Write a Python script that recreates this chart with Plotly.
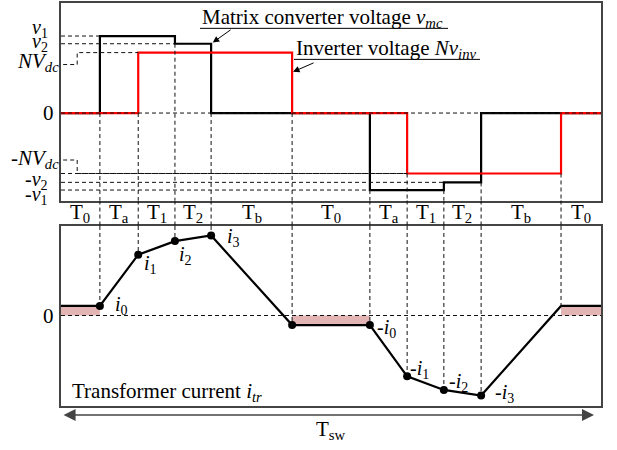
import plotly.graph_objects as go

# Switching instants over one switching period (period normalised to 100)
t_edges = [0, 7.2, 14.3, 21.1, 27.8, 42.8, 57.2, 64.1, 70.9, 77.8, 92.6, 100]
interval_names = ["T<sub>0</sub>", "T<sub>a</sub>", "T<sub>1</sub>", "T<sub>2</sub>", "T<sub>b</sub>",
                  "T<sub>0</sub>", "T<sub>a</sub>", "T<sub>1</sub>", "T<sub>2</sub>", "T<sub>b</sub>",
                  "T<sub>0</sub>"]

# Per-unit voltage levels
V1 = 1.0
V2 = 0.9
NVDC = 0.785
# Voltage held during each interval
v_mc = [0, V1, V1, V2, 0, 0, -V1, -V1, -V2, 0, 0]
nv_inv = [0, 0, NVDC, NVDC, NVDC, 0, 0, -NVDC, -NVDC, -NVDC, 0]

# Transformer current at each switching instant
I0, I1, I2, I3 = 0.12, 0.76, 0.93, 1.0
i_tr = [I0, I0, I1, I2, I3, -I0, -I0, -I1, -I2, -I3, I0, I0]
# Labelled instants and their names
i_label_idx = [1, 2, 3, 4, 6, 7, 8, 9]
i_names = ["<i>i</i><sub>0</sub>", "<i>i</i><sub>1</sub>", "<i>i</i><sub>2</sub>", "<i>i</i><sub>3</sub>",
           "-<i>i</i><sub>0</sub>", "-<i>i</i><sub>1</sub>", "-<i>i</i><sub>2</sub>", "-<i>i</i><sub>3</sub>"]

# ---- layout constants ----
FONT = "Liberation Serif"
X_RANGE = [0, 100]
Y1_RANGE = [-1.136, 1.429]
Y2_RANGE = [-1.131, 1.119]
TOP_DOMAIN = [0.5544, 0.9933]
BOT_DOMAIN = [0.0978, 0.4978]
DASH = dict(color="#111", width=1, dash="4px,3px")
FRAME = "#444"

fig = go.Figure()

# Matrix converter voltage and inverter voltage (step waveforms)
fig.add_trace(go.Scatter(x=t_edges, y=v_mc + [v_mc[-1]], mode="lines", line_shape="hv",
                         line=dict(color="black", width=2.2), xaxis="x", yaxis="y",
                         hoverinfo="skip"))
fig.add_trace(go.Scatter(x=t_edges, y=nv_inv + [nv_inv[-1]], mode="lines", line_shape="hv",
                         line=dict(color="#ff0000", width=2.2), xaxis="x", yaxis="y",
                         hoverinfo="skip"))

# Shaded regions where the current stays constant
fx, fy = [], []
for k in range(len(t_edges) - 1):
    if i_tr[k] == i_tr[k + 1]:
        fx += [t_edges[k], t_edges[k], t_edges[k + 1], t_edges[k + 1], t_edges[k], None]
        fy += [0, i_tr[k], i_tr[k + 1], 0, 0, None]
fig.add_trace(go.Scatter(x=fx, y=fy, mode="lines", fill="toself", fillcolor="#e2b4b4",
                         line=dict(width=0), xaxis="x2", yaxis="y2", hoverinfo="skip"))

# Transformer current
fig.add_trace(go.Scatter(x=t_edges, y=i_tr, mode="lines",
                         line=dict(color="black", width=2.2), xaxis="x2", yaxis="y2",
                         hoverinfo="skip"))
fig.add_trace(go.Scatter(x=t_edges[1:10], y=i_tr[1:10], mode="markers",
                         marker=dict(color="black", size=8), xaxis="x2", yaxis="y2",
                         hoverinfo="skip"))

shapes = []
# zero references
shapes.append(dict(type="line", xref="x", yref="y", x0=X_RANGE[0], x1=X_RANGE[1], y0=0, y1=0,
                   line=DASH, layer="above"))
shapes.append(dict(type="line", xref="x2", yref="y2", x0=X_RANGE[0], x1=X_RANGE[1], y0=0, y1=0,
                   line=DASH, layer="above"))

# Horizontal level references: from the left edge to the first instant the level appears
def first_edge(series, level):
    return t_edges[series.index(level)]

for series, level in [(v_mc, V1), (v_mc, V2), (nv_inv, -NVDC), (v_mc, -V2), (v_mc, -V1)]:
    shapes.append(dict(type="line", xref="x", yref="y", x0=X_RANGE[0], x1=first_edge(series, level),
                       y0=level, y1=level, line=DASH, layer="above"))

# Leader lines from the NVdc labels to their levels
LEAD_X0, LEAD_X1 = 0.4, 3.0
for lab_y, level in [(0.63, NVDC), (-0.61, -NVDC)]:
    shapes.append(dict(type="path", xref="x", yref="y",
                       path=f"M{LEAD_X0},{lab_y} L{LEAD_X1},{lab_y} L{LEAD_X1},{level} "
                            f"L{first_edge(nv_inv, level)},{level}",
                       line=DASH, layer="above"))

# Vertical projections of every switching instant down to the current waveform
for k in range(1, len(t_edges) - 1):
    if v_mc[k] != v_mc[k - 1]:
        start = min(v_mc[k], v_mc[k - 1])
    else:
        start = min(nv_inv[k], nv_inv[k - 1])
    t = t_edges[k]
    shapes.append(dict(type="line", xref="x", yref="y", x0=t, x1=t, y0=start, y1=Y1_RANGE[0],
                       line=DASH, layer="above"))
    shapes.append(dict(type="line", xref="x", yref="paper", x0=t, x1=t,
                       y0=TOP_DOMAIN[0], y1=BOT_DOMAIN[1], line=DASH, layer="above"))
    shapes.append(dict(type="line", xref="x2", yref="y2", x0=t, x1=t, y0=Y2_RANGE[1], y1=i_tr[k],
                       line=DASH, layer="above"))

# Underlines of the callout labels
shapes.append(dict(type="line", xref="x", yref="y", x0=25.74, x1=71.67, y0=1.10, y1=1.10,
                   line=dict(color="black", width=1)))
shapes.append(dict(type="line", xref="x", yref="y", x0=43.15, x1=77.6, y0=0.697, y1=0.697,
                   line=dict(color="black", width=1)))

ann = []
def text(x, y, s, xref, yref, xanchor="center", xshift=0, yshift=0, size=21):
    ann.append(dict(x=x, y=y, text=s, xref=xref, yref=yref, xanchor=xanchor, yanchor="middle",
                    xshift=xshift, yshift=yshift, showarrow=False,
                    font=dict(family=FONT, size=size, color="black")))

# Voltage level labels
text(0, V1, "<i>v</i><sub>1</sub>", "paper", "y", "right", -11, 8, size=20)
text(0, V2, "<i>v</i><sub>2</sub>", "paper", "y", "right", -11, 1, size=20)
text(0, 0.63, "<i>NV</i><sub><i>dc</i></sub>", "paper", "y", "right", 0, 3)
text(0, 0, "0", "paper", "y", "right", -5, 0)
text(0, -0.61, "-<i>NV</i><sub><i>dc</i></sub>", "paper", "y", "right", 0, 1)
text(0, -V2, "-<i>v</i><sub>2</sub>", "paper", "y", "right", -11, 2, size=20)
text(0, -V1, "-<i>v</i><sub>1</sub>", "paper", "y", "right", -11, -5, size=20)
text(0, 0, "0", "paper", "y2", "right", -5, 0)

# Interval names between the two panels
for k, name in enumerate(interval_names):
    text((t_edges[k] + t_edges[k + 1]) / 2, 0.5267, name, "x", "paper")

# Current point labels
offsets = [(13, 0), (4, -10), (2, -14), (14, -2), (5, -3), (1, 7), (3, 7), (12, 2)]
for k, name, (dx, dy) in zip(i_label_idx, i_names, offsets):
    text(t_edges[k], i_tr[k], name, "x2", "y2", "left", dx, dy, size=20)

# Callout labels with arrows
text(25.74, 1.234, "Matrix converter voltage <i>v</i><sub><i>mc</i></sub>", "x", "y", "left", size=21)
text(43.15, 0.83, "Inverter voltage <i>Nv</i><sub><i>inv</i></sub>", "x", "y", "left", size=21)
ann.append(dict(x=t_edges[4], y=V2, xref="x", yref="y", ax=21, ay=-15, text="", showarrow=True,
                arrowhead=2, arrowsize=1.3, arrowwidth=1, arrowcolor="black", standoff=2))
ann.append(dict(x=t_edges[5], y=0.53, xref="x", yref="y", ax=23, ay=-10, text="", showarrow=True,
                arrowhead=2, arrowsize=1.3, arrowwidth=1, arrowcolor="black", standoff=1))

text(0, 0.1289, "Transformer current <i>i</i><sub><i>tr</i></sub>", "x2", "paper", "left", 9, 0)

# Switching period arrow
ann.append(dict(x=98.7, y=0.0778, xref="x2", yref="paper", ax=0.2, axref="x2", ay=0, ayref="pixel",
                text="", showarrow=True, arrowside="end+start", arrowhead=2, startarrowhead=2,
                arrowsize=1.6, startarrowsize=1.6, arrowwidth=1.5, arrowcolor="#444"))
text(50, 0.0444, "T<sub>sw</sub>", "x2", "paper")

axis_common = dict(showline=True, mirror=True, linecolor=FRAME, linewidth=1.5, showgrid=False,
                   zeroline=False, showticklabels=False, ticks="", fixedrange=True)

fig.update_layout(
    width=617, height=450, autosize=False,
    margin=dict(l=61, r=16, t=0, b=0),
    paper_bgcolor="white", plot_bgcolor="white",
    showlegend=False,
    font=dict(family=FONT, color="black"),
    xaxis=dict(domain=[0, 1], range=X_RANGE, anchor="y", **axis_common),
    yaxis=dict(domain=TOP_DOMAIN, range=Y1_RANGE, anchor="x", **axis_common),
    xaxis2=dict(domain=[0, 1], range=X_RANGE, anchor="y2", **axis_common),
    yaxis2=dict(domain=BOT_DOMAIN, range=Y2_RANGE, anchor="x2", **axis_common),
    shapes=shapes,
    annotations=ann,
)

fig.write_html("out.html")
